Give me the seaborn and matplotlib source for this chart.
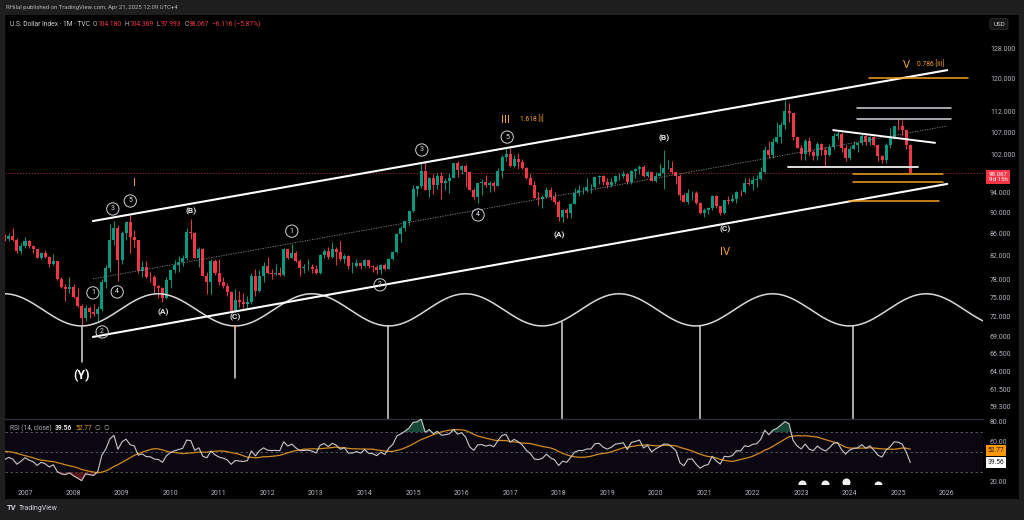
import numpy as np
import pandas as pd
import matplotlib
matplotlib.use("Agg")
import matplotlib.pyplot as plt
import seaborn as sns
from matplotlib.patches import Rectangle
from matplotlib.ticker import NullLocator, NullFormatter, FixedLocator, FixedFormatter

# ---------------- DATA ----------------
start_month = "2006-08"
first_open = 85.3
# monthly closes before the visible window (only used to warm up the RSI)
warmup_close = [87.3, 88.2, 88.1, 90.7, 88.9, 88.6, 89.5, 88.8, 87.7, 85.1, 81.6, 80.85,
                83.9, 82.4, 84.6, 84.3, 86.9, 89.1, 87.9, 86.9, 89.1, 89.8, 91.6, 91.2,
                89.4, 90.7, 89.6, 86.0, 85.4, 85.2, 85.3]

close = [
    85.0, 85.6, 84.9, 82.9, 83.7,
    84.7, 83.8, 83.2, 81.7, 82.5, 81.9, 80.6, 81.1, 78.0, 76.7, 76.3, 76.7,
    75.0, 73.6, 71.8, 73.3, 72.7, 72.4, 73.2, 77.5, 79.9, 84.9, 87.1, 81.3,
    86.1, 88.2, 85.4, 84.9, 79.4, 80.1, 78.4, 78.3, 76.9, 76.6, 74.9, 77.9,
    79.5, 80.4, 81.0, 81.6, 86.3, 86.1, 81.7, 83.2, 78.5, 77.6, 81.2, 79.0,
    77.6, 76.9, 75.9, 72.9, 74.6, 74.3, 74.0, 74.3, 78.6, 76.0, 78.6, 80.2,
    79.1, 78.9, 79.0, 78.8, 83.3, 81.6, 82.6, 81.1, 79.9, 80.0, 80.1, 79.8,
    79.1, 82.1, 82.9, 81.9, 83.3, 82.7, 81.4, 82.0, 80.2, 80.2, 80.7, 80.2,
    81.3, 80.2, 80.1, 79.5, 80.4, 79.8, 81.5, 82.7, 86.0, 87.0, 88.4, 90.3,
    94.8, 95.3, 98.4, 94.6, 96.9, 95.5, 97.3, 96.0, 96.3, 96.9, 100.1, 98.6,
    99.6, 98.2, 94.6, 93.1, 95.9, 96.1, 95.5, 96.0, 95.4, 98.4, 101.5, 102.2,
    99.5, 101.1, 100.3, 99.1, 97.0, 95.6, 92.9, 92.6, 93.1, 94.6, 93.0, 92.1,
    89.1, 90.6, 90.0, 91.8, 93.9, 94.5, 94.5, 95.1, 95.1, 97.1, 97.3, 96.2,
    95.6, 96.2, 97.3, 97.5, 97.8, 96.1, 98.5, 98.9, 99.4, 97.4, 98.3, 96.4,
    97.4, 98.1, 99.0, 99.0, 98.3, 97.4, 93.4, 92.1, 93.9, 94.0, 91.9, 89.9,
    90.6, 90.9, 93.2, 91.3, 90.0, 92.4, 92.2, 92.6, 94.2, 94.1, 95.9, 95.7,
    96.5, 96.7, 98.3, 103.0, 101.8, 104.7, 105.9, 108.7, 112.1, 111.5, 105.9, 103.5,
    102.1, 104.9, 102.5, 101.7, 104.3, 102.9, 101.9, 103.6, 106.2, 106.7, 103.5, 101.3,
    103.3, 104.2, 104.5, 106.2, 104.7, 105.9, 104.1, 101.7, 100.8, 104.0, 105.7, 108.5,
    108.4, 107.6, 104.18, 98.067]

high = [
    86.0, 86.2, 87.0, 85.2, 84.3,
    85.4, 84.9, 84.0, 83.3, 82.7, 83.0, 82.0, 82.3, 81.2, 78.4, 77.2, 78.4,
    77.2, 76.6, 73.9, 73.8, 73.7, 74.0, 73.6, 78.1, 80.4, 87.8, 88.5, 87.6,
    86.5, 88.5, 89.6, 86.8, 84.8, 81.2, 81.1, 79.3, 78.7, 77.0, 76.7, 78.3,
    79.6, 81.3, 82.0, 82.2, 87.0, 88.7, 86.3, 83.6, 83.4, 79.2, 81.5, 81.5,
    81.4, 78.4, 77.3, 76.0, 76.4, 76.0, 75.7, 75.2, 79.0, 79.8, 79.6, 80.9,
    81.8, 79.8, 80.6, 80.0, 83.5, 83.0, 84.1, 82.9, 81.4, 80.6, 81.4, 80.6,
    80.4, 82.3, 83.2, 83.6, 84.5, 83.6, 84.75, 82.4, 82.2, 80.9, 81.5, 81.0,
    81.4, 81.3, 80.4, 80.4, 80.6, 80.8, 81.6, 82.8, 86.1, 87.4, 88.5, 90.5,
    95.5, 95.3, 100.4, 100.3, 97.2, 97.8, 98.0, 98.3, 96.9, 98.0, 100.2, 100.5,
    99.8, 99.9, 98.3, 95.0, 96.0, 96.7, 97.6, 96.3, 96.3, 99.1, 102.0, 103.6,
    103.8, 101.8, 102.3, 101.0, 99.4, 97.9, 96.3, 94.2, 93.4, 95.2, 95.1, 94.2,
    92.5, 90.8, 90.9, 91.9, 94.9, 95.5, 95.2, 96.9, 95.7, 97.2, 97.7, 97.7,
    96.9, 96.9, 97.7, 98.0, 98.4, 98.0, 98.7, 99.1, 99.7, 99.7, 98.5, 98.3,
    98.2, 99.9, 103.0, 100.9, 100.6, 98.3, 97.8, 94.0, 94.7, 94.3, 94.3, 92.0,
    91.0, 91.1, 93.4, 93.4, 91.4, 92.4, 93.2, 93.7, 94.4, 94.5, 96.9, 96.9,
    97.4, 97.7, 99.4, 103.9, 105.0, 105.8, 109.3, 109.5, 114.8, 113.9, 111.4, 106.0,
    104.1, 105.4, 105.9, 103.1, 104.7, 104.5, 103.6, 104.4, 106.8, 107.3, 107.1, 104.0,
    103.8, 104.97, 104.7, 106.5, 106.5, 106.1, 106.1, 104.4, 101.9, 104.6, 107.9, 108.5,
    110.2, 109.9, 107.6, 104.369]

low = [
    84.6, 84.6, 84.6, 82.5, 82.3,
    83.5, 83.4, 82.6, 81.6, 81.4, 81.7, 80.0, 80.5, 77.9, 76.6, 74.5, 75.8,
    74.9, 73.5, 70.7, 71.3, 71.8, 72.0, 71.3, 72.8, 76.6, 79.3, 84.0, 77.7,
    80.6, 84.8, 82.6, 83.6, 79.1, 78.3, 78.2, 77.5, 75.8, 74.9, 74.2, 74.7,
    76.6, 79.0, 79.2, 80.2, 81.3, 85.1, 81.6, 80.1, 78.5, 75.6, 75.6, 78.7,
    77.1, 76.6, 75.3, 72.8, 72.7, 73.5, 73.4, 73.4, 73.9, 75.3, 75.9, 77.6,
    78.9, 78.1, 78.8, 78.6, 78.6, 81.4, 81.6, 81.0, 78.6, 79.0, 79.6, 79.0,
    78.9, 78.9, 81.6, 81.5, 81.6, 80.5, 81.2, 80.8, 79.8, 79.0, 80.0, 79.7,
    80.1, 79.9, 79.2, 78.9, 78.9, 79.6, 79.8, 81.3, 82.6, 84.5, 86.6, 87.6,
    90.2, 93.2, 94.9, 94.5, 93.1, 93.6, 94.8, 92.6, 94.6, 93.8, 96.9, 97.2,
    97.9, 95.2, 94.6, 92.6, 91.9, 93.4, 95.2, 94.1, 94.4, 95.4, 96.9, 100.5,
    99.4, 99.2, 98.8, 98.8, 96.8, 95.5, 92.8, 91.6, 91.0, 92.9, 92.5, 91.8,
    88.4, 88.25, 89.0, 89.0, 91.7, 93.3, 93.7, 94.1, 93.8, 94.8, 95.7, 95.6,
    95.0, 95.2, 95.7, 96.5, 96.9, 95.8, 95.8, 97.0, 97.8, 97.1, 97.1, 96.4,
    96.2, 97.3, 94.7, 98.8, 97.9, 95.7, 92.5, 92.1, 91.7, 92.5, 91.7, 89.7,
    89.2, 89.7, 90.6, 90.9, 89.5, 89.7, 91.8, 92.0, 91.9, 93.3, 93.9, 95.6,
    94.6, 95.1, 96.6, 98.0, 101.3, 101.3, 104.6, 104.6, 107.7, 109.5, 105.3, 103.4,
    100.8, 100.8, 101.9, 100.8, 100.8, 101.9, 99.6, 101.7, 103.3, 105.4, 102.5, 100.6,
    100.8, 103.3, 102.6, 104.1, 104.1, 104.0, 103.9, 100.5, 100.2, 100.2, 103.4, 105.4,
    107.6, 106.1, 103.2, 97.993]

# Drawings (time in fractional years, prices)
channel_t = [2008.40, 2026.01]
upper_channel = [88.4, 122.3]
lower_channel = [68.9, 95.75]
mid_channel = [78.06, 108.45]

white_levels = [112.7, 110.1]
white_levels_t = [2024.15, 2026.09]
triangle_t = [2023.66, 2025.76]
triangle_p = [107.5, 104.6]
base_level = 99.3
base_level_t = [2022.73, 2025.41]
orange_top = 120.3
orange_top_t = [2024.40, 2026.44]
orange_levels = [97.8, 96.15]
orange_levels_t = [2024.07, 2025.92]
orange_low = 92.3
orange_low_t = [2023.99, 2025.84]
last_price = 98.067

sine_trough_t = 2011.33
sine_period = 3.166
sine_hi, sine_lo = 75.6, 70.55

vline_t = [2008.175, 2011.33, 2014.48, 2018.07, 2020.915, 2024.07]
vline_top = [70.55, 70.55, 70.55, 71.15, 70.55, 70.55]
vline_bottom = [65.3, 63.1, 57.0, 57.0, 57.0, 57.0]

circ_text = ["1", "2", "3", "4", "5", "1", "2", "3", "4", "5"]
circ_t = [2008.40, 2008.59, 2008.81, 2008.90, 2009.17, 2012.50, 2014.32, 2015.18, 2016.34, 2016.94]
circ_p = [75.75, 69.64, 90.73, 75.9, 92.3, 86.5, 77.06, 103.0, 89.57, 105.9]

abc_text = ["(A)", "(B)", "(C)", "(A)", "(B)", "(C)"]
abc_t = [2009.85, 2010.42, 2011.33, 2018.01, 2020.17, 2021.43]
abc_p = [72.7, 90.35, 71.93, 85.8, 105.7, 86.9]

roman_text = ["I", "III", "IV", "V"]
roman_t = [2009.25, 2016.915, 2021.43, 2025.18]
roman_p = [95.95, 109.9, 82.7, 123.7]

fib_text = ["1.618 [I]", "0.786 [III]"]
fib_t = [2017.20, 2025.39]
fib_p = [109.9, 123.7]

price_ticks = [59.3, 61.5, 64, 66.5, 69, 72, 75, 78, 82, 86, 90, 94, 102, 107, 112, 120, 128]
rsi_ticks = [20, 60, 80]
year_ticks = list(range(2007, 2027))

bubble_t = [2023.02, 2023.49, 2023.92, 2024.58]
bubble_y = [18.0, 18.0, 19.8, 17.0]

# ---------------- STYLE ----------------
sns.set_theme(style="dark")
plt.rcParams['font.family'] = ['Roboto', 'DejaVu Sans']

GREEN = '#089981'
RED = '#f23645'
ORANGE = '#f5a020'
TXT = '#b2b5be'
WHITE = '#e8e8e8'

W, H = 1024, 520
fig = plt.figure(figsize=(10.24, 5.2), dpi=100, facecolor='#1e1e1e')
fx = lambda px: px / W
fy = lambda py: 1 - py / H

fig.patches.append(Rectangle((fx(5), fy(499)), fx(1019) - fx(5), fy(15) - fy(499),
                             transform=fig.transFigure, facecolor='black',
                             edgecolor='none', zorder=-10))

ax = fig.add_axes([fx(5), fy(419), fx(983) - fx(5), fy(15) - fy(419)])
rax = fig.add_axes([fx(5), fy(484), fx(983) - fx(5), fy(419) - fy(484)], sharex=ax)
for a in (ax, rax):
    a.set_zorder(2)
    a.set_facecolor('black')
    for s in a.spines.values():
        s.set_visible(False)
    a.grid(False)
rax.spines['top'].set_visible(True)
rax.spines['top'].set_color('#2a2e39')
rax.spines['top'].set_linewidth(1.0)

px2t = lambda px: 2007 + (px - 25) / 48.51
XL = (px2t(5), px2t(983))

# ---------------- CANDLES ----------------
per = pd.period_range(start_month, periods=len(close), freq='M')
t = per.year.values + (per.month.values - 1) / 12.0
c = np.array(close)
o = np.concatenate([[first_open], c[:-1]])
h = np.maximum(np.array(high), np.maximum(o, c))
l = np.minimum(np.array(low), np.minimum(o, c))
up = c >= o
cols = np.where(up, GREEN, RED)

ax.set_yscale('log')
ax.vlines(t, l, h, colors=cols, linewidth=0.7, zorder=2)
body_lo = np.minimum(o, c)
body_h = np.maximum(np.abs(c - o), 0.08)
ax.bar(t, body_h, bottom=body_lo, width=0.062, color=cols, linewidth=0, zorder=3)

# ---------------- DRAWINGS ----------------
ax.axhline(last_price, color=RED, lw=0.6, ls=(0, (1.5, 2)), alpha=0.75, zorder=1)
ax.plot(channel_t, upper_channel, color='white', lw=1.5, zorder=5, solid_capstyle='round')
ax.plot(channel_t, lower_channel, color='white', lw=1.5, zorder=5, solid_capstyle='round')
ax.plot(channel_t, mid_channel, color='#8a8a8a', lw=0.6, ls=(0, (1.5, 1.5)), zorder=4)

for lv in white_levels:
    ax.plot(white_levels_t, [lv, lv], color='#d1d4dc', lw=1.1, zorder=5)
ax.plot(triangle_t, triangle_p, color='white', lw=1.4, zorder=5)
ax.plot(base_level_t, [base_level, base_level], color='#e0e0e0', lw=1.4, zorder=5)
ax.plot(orange_top_t, [orange_top, orange_top], color=ORANGE, lw=1.1, zorder=5)
for lv in orange_levels:
    ax.plot(orange_levels_t, [lv, lv], color=ORANGE, lw=1.1, zorder=5)
ax.plot(orange_low_t, [orange_low, orange_low], color=ORANGE, lw=1.1, zorder=5)

# sine-line drawing tool
st = np.linspace(XL[0], XL[1], 800)
lmid = (np.log(sine_hi) + np.log(sine_lo)) / 2
lamp = (np.log(sine_hi) - np.log(sine_lo)) / 2
sp = np.exp(lmid - lamp * np.cos(2 * np.pi * (st - sine_trough_t) / sine_period))
ax.plot(st, sp, color='#d9d9d9', lw=1.1, zorder=4)

for vt, vtop, vb in zip(vline_t, vline_top, vline_bottom):
    ax.plot([vt, vt], [vb, vtop], color='#d9d9d9', lw=1.1, zorder=4)

# labels
for s_, tt, pp in zip(circ_text, circ_t, circ_p):
    ax.text(tt, pp, s_, ha='center', va='center', fontsize=5, color=WHITE, zorder=7,
            bbox=dict(boxstyle='circle,pad=0.38', fc='none', ec='#d1d4dc', lw=0.7))
for s_, tt, pp in zip(abc_text, abc_t, abc_p):
    ax.text(tt, pp, s_, ha='center', va='center', fontsize=6, color=WHITE,
            fontweight='bold', zorder=7)
ax.text(2008.175, 63.35, "(Y)", ha='center', va='center', fontsize=9, color='white',
        fontweight='bold', zorder=7)
for s_, tt, pp in zip(roman_text, roman_t, roman_p):
    ax.text(tt, pp, s_, ha='center', va='center', fontsize=7.5, color=ORANGE, zorder=7,
            family=['DejaVu Sans'])
ax.text(2011.33, 70.3, "II", ha='center', va='center', fontsize=4.5, color=ORANGE, zorder=7,
        family=['DejaVu Sans'])
for s_, tt, pp in zip(fib_text, fib_t, fib_p):
    ax.text(tt, pp, s_, ha='left', va='center', fontsize=4.8, color=ORANGE, zorder=7)

ax.set_xlim(*XL)
ax.set_ylim(57.75, 137.7)
ax.yaxis.tick_right()
ax.yaxis.set_major_locator(FixedLocator(price_ticks))
ax.yaxis.set_major_formatter(FixedFormatter([f"{v:.3f}" for v in price_ticks]))
ax.yaxis.set_minor_locator(NullLocator())
ax.yaxis.set_minor_formatter(NullFormatter())
ax.tick_params(axis='y', length=0, pad=5, labelsize=5, labelcolor=TXT)
ax.tick_params(axis='x', length=0, labelbottom=False)

# ---------------- RSI (14, close) with 14-period MA ----------------
allc = np.array(warmup_close + close, dtype=float)
d = np.diff(allc)
gain = np.clip(d, 0, None)
loss = np.clip(-d, 0, None)
n = 14
ag = np.full(len(d), np.nan)
al = np.full(len(d), np.nan)
ag[n - 1] = gain[:n].mean()
al[n - 1] = loss[:n].mean()
for i in range(n, len(d)):
    ag[i] = (ag[i - 1] * (n - 1) + gain[i]) / n
    al[i] = (al[i - 1] * (n - 1) + loss[i]) / n
rsi_all = pd.Series(100 - 100 / (1 + ag / al))
ma_all = rsi_all.rolling(14).mean()
rsi = rsi_all.values[-len(close):]
rma = ma_all.values[-len(close):]

rax.axhspan(30, 70, color='#7e57c2', alpha=0.09, lw=0, zorder=0)
for lv in (70, 50, 30):
    rax.axhline(lv, color='#5d606b', lw=0.6, ls=(0, (3, 3)), zorder=1)
rax.fill_between(t, rsi, 70, where=rsi > 70, interpolate=True, color='#1e5a46', alpha=0.8, lw=0, zorder=2)
rax.fill_between(t, rsi, 30, where=rsi < 30, interpolate=True, color='#6b1d22', alpha=0.8, lw=0, zorder=2)
sns.lineplot(x=t, y=rma, ax=rax, color='#d28a1e', lw=0.9, zorder=3)
sns.lineplot(x=t, y=rsi, ax=rax, color='#c8c8c8', lw=0.8, zorder=4)
rax.scatter(bubble_t, bubble_y, s=34, color='#f0f0f0', zorder=5, clip_on=True, lw=0)

rax.set_ylim(18, 83)
rax.yaxis.tick_right()
rax.set_yticks(rsi_ticks)
rax.set_yticklabels([f"{v:.2f}" for v in rsi_ticks])
rax.tick_params(axis='y', length=0, pad=5, labelsize=5, labelcolor=TXT)
rax.set_xticks(year_ticks)
rax.set_xticklabels([str(y) for y in year_ticks])
rax.tick_params(axis='x', length=0, pad=4, labelsize=5, labelcolor=TXT)
rax.set_xlim(*XL)
rax.set_xlabel('')
rax.set_ylabel('')

# ---------------- TEXTS ----------------
renderer = fig.canvas.get_renderer()

def place_chain(items, x0, y0, fs, bold_idx=()):
    xcur = x0
    for i, (s_, col, gap) in enumerate(items):
        xcur += gap
        tx = fig.text(fx(xcur), fy(y0), s_, fontsize=fs, color=col, va='center', ha='left',
                      fontweight='bold' if i in bold_idx else 'normal')
        xcur += tx.get_window_extent(renderer=renderer).width

fig.text(fx(6), fy(8), "RHilal published on TradingView.com, Apr 21, 2025 12:09 UTC+4",
         fontsize=4.3, color=TXT, va='center', ha='left')
hdr = [("U.S. Dollar Index · 1M · TVC", '#d1d4dc', 0), ("O", TXT, 3), ("104.180", RED, 0.3),
       ("H", TXT, 3), ("104.369", RED, 0.3), ("L", TXT, 3), ("97.993", RED, 0.3),
       ("C", TXT, 3), ("98.067", RED, 0.3), ("−6.116 (−5.87%)", RED, 3)]
place_chain(hdr, 10, 24, 4.8)
rsi_hdr = [("RSI (14, close)", TXT, 0), ("39.56", '#e8e8e8', 3), ("52.77", ORANGE, 3),
           ("∅", TXT, 3), ("∅", TXT, 3)]
place_chain(rsi_hdr, 10, 428, 4.8, bold_idx=(1,))

fig.text(fx(999), fy(24), "USD", fontsize=4.5, color='#d1d4dc', ha='center', va='center',
         bbox=dict(boxstyle='round,pad=0.5,rounding_size=0.4', fc='#161616', ec='#2e2e2e', lw=0.6))
fig.text(fx(998), fy(177), "98.067\n9d 15h", fontsize=4.4, color='white', ha='center', va='center',
         linespacing=1.05, bbox=dict(boxstyle='square,pad=0.35', fc=RED, ec='none'))
fig.text(fx(996), fy(450), "52.77", fontsize=4.8, color='#1a1a1a', ha='center', va='center',
         bbox=dict(boxstyle='square,pad=0.3', fc='#ff9800', ec='none'))
fig.text(fx(996), fy(462), "39.56", fontsize=4.8, color='#1a1a1a', ha='center', va='center',
         bbox=dict(boxstyle='square,pad=0.3', fc='white', ec='none'))

fig.text(fx(7), fy(508), "TV", fontsize=5.5, color='#d1d4dc', fontweight='bold', va='center')
fig.text(fx(19), fy(508), "TradingView", fontsize=5, color='#d1d4dc', va='center')

fig.savefig("out.png", dpi=100, facecolor=fig.get_facecolor())
